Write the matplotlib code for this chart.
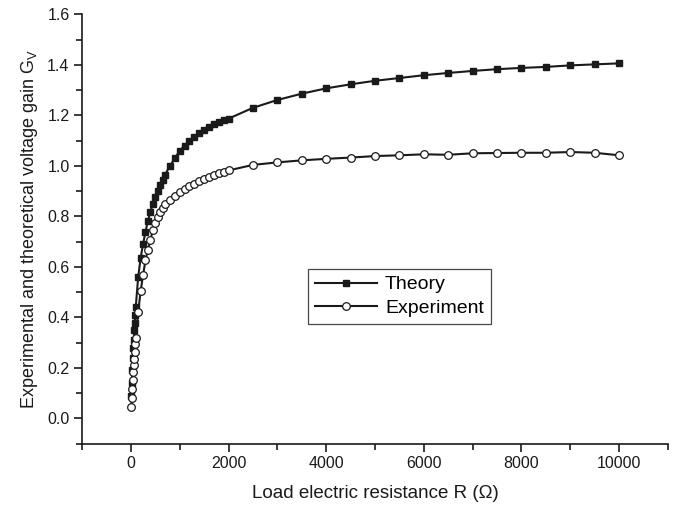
import numpy as np
import matplotlib.pyplot as plt
from matplotlib.ticker import MultipleLocator

plt.rcParams['font.family'] = ['Liberation Sans', 'DejaVu Sans']

# 负载电阻 (Ohm)
R = [10, 20, 30, 40, 50, 60, 70, 80, 90, 100,
     150, 200, 250, 300, 350, 400, 450, 500, 550, 600, 650, 700,
     800, 900, 1000, 1100, 1200, 1300, 1400, 1500, 1600, 1700, 1800, 1900, 2000,
     2500, 3000, 3500, 4000, 4500, 5000, 5500, 6000, 6500, 7000, 7500, 8000,
     8500, 9000, 9500, 10000]

# 理论增益
theory = [0.09, 0.14, 0.19, 0.24, 0.28, 0.31, 0.35, 0.38, 0.41, 0.44,
          0.56, 0.635, 0.69, 0.74, 0.783, 0.818, 0.85, 0.875, 0.90, 0.925, 0.945, 0.965,
          1.00, 1.03, 1.06, 1.08, 1.10, 1.115, 1.13, 1.143, 1.155, 1.165, 1.173, 1.18, 1.187,
          1.23, 1.261, 1.286, 1.307, 1.323, 1.337, 1.348, 1.359, 1.368, 1.376, 1.383, 1.388,
          1.392, 1.398, 1.402, 1.406]

# 实验增益
experiment = [0.046, 0.082, 0.117, 0.152, 0.185, 0.211, 0.236, 0.265, 0.293, 0.319,
              0.422, 0.503, 0.568, 0.627, 0.669, 0.706, 0.746, 0.772, 0.796, 0.816, 0.833, 0.849,
              0.865, 0.882, 0.895, 0.908, 0.92, 0.93, 0.94, 0.948, 0.956, 0.963, 0.97, 0.976, 0.982,
              1.004, 1.014, 1.022, 1.028, 1.033, 1.039, 1.042, 1.046, 1.044, 1.050, 1.051, 1.052,
              1.052, 1.055, 1.052, 1.042]

fig = plt.figure(figsize=(6.98, 5.13), dpi=100)
ax = fig.add_axes([0.1175, 0.135, 0.8395, 0.837])

ax.plot(R, theory, '-', color='#1a1a1a', lw=1.5, marker='s', ms=5,
        mfc='#1a1a1a', mec='#1a1a1a', label='Theory')
ax.plot(R, experiment, '-', color='#1a1a1a', lw=1.5, marker='o', ms=5.5,
        mfc='white', mec='#1a1a1a', mew=0.9, label='Experiment')

ax.set_xlim(-1000, 11000)
ax.set_ylim(-0.1, 1.6)
ax.xaxis.set_major_locator(MultipleLocator(2000))
ax.xaxis.set_minor_locator(MultipleLocator(1000))
ax.yaxis.set_major_locator(MultipleLocator(0.2))
ax.yaxis.set_minor_locator(MultipleLocator(0.1))
ax.yaxis.set_major_formatter(plt.FuncFormatter(lambda v, p: '{:.1f}'.format(v)))

for s in ['top', 'right']:
    ax.spines[s].set_visible(False)
for s in ['left', 'bottom']:
    ax.spines[s].set_linewidth(1.2)
    ax.spines[s].set_color('#1a1a1a')

ax.tick_params(which='major', direction='out', length=6, width=1.2,
               labelsize=11.5, colors='#1a1a1a', pad=3)
ax.tick_params(which='minor', direction='out', length=4, width=1.2, colors='#1a1a1a')

ax.set_xlabel('Load electric resistance R (\u03a9)', fontsize=13.5, color='#1a1a1a', labelpad=10)
ax.set_ylabel('Experimental and theoretical voltage gain G$_\\mathregular{V}$',
              fontsize=13, color='#1a1a1a', labelpad=5)

leg = ax.legend(loc='upper left', bbox_to_anchor=(0.386, 0.407), fontsize=14,
                frameon=True, fancybox=False, handlelength=3.2, borderpad=0.35,
                labelspacing=0.3, handletextpad=0.4, borderaxespad=0)
leg.get_frame().set_edgecolor('#1a1a1a')
leg.get_frame().set_linewidth(0.9)

fig.savefig('out.png', dpi=100)
